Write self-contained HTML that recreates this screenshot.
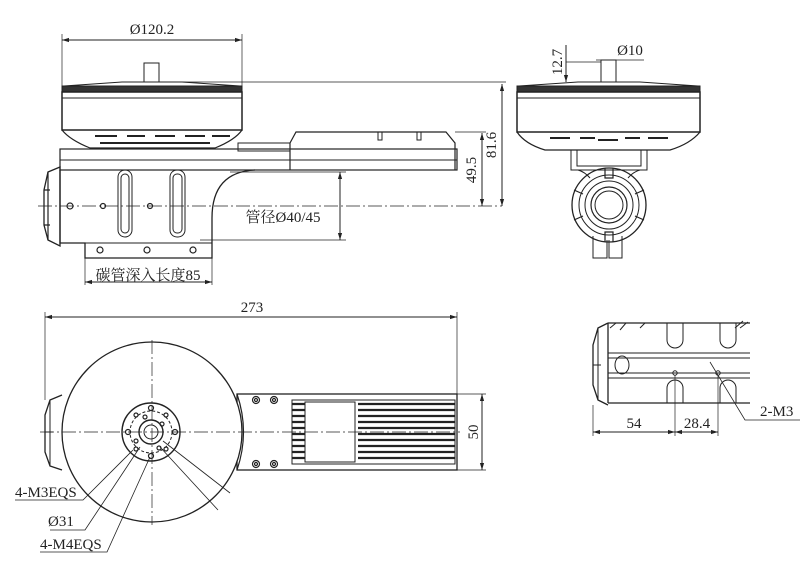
<!DOCTYPE html>
<html><head><meta charset="utf-8"><style>
html,body{margin:0;padding:0;background:#fff}
svg{display:block}
text{font-family:"Liberation Serif","Noto Serif CJK SC",serif;fill:#222;stroke:none;font-size:15px}
</style></head><body>
<svg width="800" height="562" viewBox="0 0 800 562" xmlns="http://www.w3.org/2000/svg" fill="none" stroke="#222" stroke-width="1">
<defs>
<marker id="a" viewBox="0 0 10 10" refX="10" refY="5" markerWidth="7" markerHeight="7" orient="auto-start-reverse"><path d="M0,2 L10,5 L0,8z" fill="#222" stroke="none"/></marker>
</defs>
<!-- ===== TOP-LEFT SIDE VIEW ===== -->
<line x1="62" y1="40" x2="242" y2="40" marker-start="url(#a)" marker-end="url(#a)"/>
<line x1="62" y1="34" x2="62" y2="88" stroke-width=".7"/><line x1="242" y1="34" x2="242" y2="88" stroke-width=".7"/>
<text x="152" y="34" text-anchor="middle">Ø120.2</text>
<rect x="144" y="63" width="15" height="19"/>
<path d="M122 82 H182 L240 86 H64 Z"/>
<rect x="62" y="86" width="180" height="6" fill="#333"/>
<rect x="62" y="92" width="180" height="38" stroke-width="1.5"/>
<line x1="62" y1="98" x2="242" y2="98"/>
<path d="M62 130 Q70 140 90 148 H215 Q235 140 242 130" stroke-width="1.2"/>
<g stroke-width="2"><path d="M95 136 h22 M127 136h18 M155 136h20 M185 136h20 M212 136h18"/><path d="M100 143h110"/></g>
<!-- arm -->
<rect x="60" y="149" width="397" height="21" stroke-width="1.2"/>
<line x1="60" y1="160" x2="457" y2="160"/>
<rect x="238" y="143" width="52" height="8"/>
<path d="M290 170 V143 L296 132 H446 L455 143 V170" stroke-width="1.2"/>
<path d="M378 132v8h4v-8 M417 132v8h4v-8"/>
<line x1="182" y1="82" x2="506" y2="82" stroke-width=".7"/>
<line x1="455" y1="132" x2="486" y2="132" stroke-width=".7"/>
<line x1="502" y1="84" x2="502" y2="206" marker-start="url(#a)" marker-end="url(#a)"/>
<line x1="482" y1="133" x2="482" y2="206" marker-start="url(#a)" marker-end="url(#a)"/>
<text transform="translate(496,145) rotate(-90)" text-anchor="middle">81.6</text>
<text transform="translate(476,170) rotate(-90)" text-anchor="middle">49.5</text>
<!-- clamp -->
<path d="M60 170 V243 H85 V258 H212 V218 Q212 172 255 170" stroke-width="1.3"/>
<line x1="60" y1="243" x2="212" y2="243"/>
<path d="M60 167 L48 172 L44 190 V225 L48 240 L60 246 Z" stroke-width="1.3"/>
<path d="M48 172 V240 M44 190 h6 M44 225 h6" stroke-width="1.2"/>
<rect x="118" y="170" width="14" height="67" rx="7"/><rect x="121" y="174" width="8" height="59" rx="4"/>
<rect x="170" y="170" width="15" height="67" rx="7"/><rect x="173" y="174" width="9" height="59" rx="4"/>
<g stroke-width="1.2"><circle cx="70" cy="206" r="3"/><circle cx="103" cy="206" r="2.5"/><circle cx="150" cy="206" r="2.5"/><circle cx="100" cy="250" r="3"/><circle cx="147" cy="250" r="3"/><circle cx="193" cy="250" r="3"/></g>
<line x1="38" y1="206" x2="502" y2="206" stroke-dasharray="14 3 2 3" stroke-width=".7"/>
<line x1="230" y1="172" x2="346" y2="172" stroke-width=".7"/>
<line x1="200" y1="240" x2="346" y2="240" stroke-width=".7"/>
<line x1="340" y1="172" x2="340" y2="240" marker-start="url(#a)" marker-end="url(#a)"/>
<text x="283" y="222" text-anchor="middle">管径Ø40/45</text>
<line x1="85" y1="258" x2="85" y2="285" stroke-width=".7"/><line x1="212" y1="258" x2="212" y2="285" stroke-width=".7"/>
<line x1="85" y1="282" x2="212" y2="282" marker-start="url(#a)" marker-end="url(#a)"/>
<text x="148" y="280" text-anchor="middle">碳管深入长度85</text>
<!-- ===== TOP-RIGHT FRONT VIEW ===== -->
<rect x="601" y="60" width="15" height="22"/>
<path d="M578 82 H640 L698 86 H519 Z"/>
<rect x="517" y="86" width="183" height="6" fill="#333"/>
<rect x="517" y="92" width="183" height="40" stroke-width="1.5"/>
<line x1="517" y1="98" x2="700" y2="98"/>
<path d="M517 132 Q525 144 545 150 H670 Q690 144 700 132" stroke-width="1.2"/>
<path d="M550 138h20 M580 138h15 M598 140h20 M625 138h15 M648 138h20" stroke-width="2"/>
<path d="M571 150 V170 H647 V150 M577 150 V166 H641 V150"/>
<line x1="566" y1="45" x2="566" y2="82" marker-end="url(#a)"/>
<line x1="566" y1="62" x2="601" y2="62" stroke-width=".7"/>
<text transform="translate(562,62) rotate(-90)" text-anchor="middle">12.7</text>
<line x1="596" y1="60" x2="644" y2="60" stroke-width=".7"/>
<text x="630" y="55" text-anchor="middle">Ø10</text>
<path d="M578 170 Q585 172 590 178" />
<path d="M640 170 Q633 172 628 178"/>
<circle cx="609" cy="205" r="37" stroke-width="1.3"/>
<circle cx="609" cy="205" r="30"/><circle cx="609" cy="205" r="24"/>
<circle cx="609" cy="205" r="18" stroke-width="1.2"/><circle cx="609" cy="205" r="14"/>
<g stroke-width="1.2"><path d="M605 168v10h8v-10 M605 242v-10h8v10 M574 190l9 4 M574 220l9-4 M644 190l-9 4 M644 220l-9-4"/></g>
<path d="M593 236 V258 H607 V240 M609 240 V258 H622 V236"/>
<!-- ===== BOTTOM-LEFT TOP VIEW ===== -->
<line x1="45" y1="317" x2="457" y2="317" marker-start="url(#a)" marker-end="url(#a)"/>
<line x1="45" y1="312" x2="45" y2="400" stroke-width=".7"/><line x1="457" y1="312" x2="457" y2="394" stroke-width=".7"/>
<text x="252" y="312" text-anchor="middle">273</text>
<path d="M62 395 L50 400 L45 415 V452 L50 466 L62 470" stroke-width="1.3"/>
<path d="M50 400 V466 M45 432h8"/>
<rect x="237" y="394" width="220" height="76" stroke-width="1.3"/>
<path d="M237 394 Q250 432 237 470" stroke-width="1.2"/>
<circle cx="152" cy="432" r="90" fill="#fff" stroke-width="1.3"/>
<g stroke-width="1.2">
<circle cx="256" cy="400" r="3.5"/><circle cx="256" cy="400" r="1.5"/><circle cx="274" cy="400" r="3.5"/><circle cx="274" cy="400" r="1.5"/>
<circle cx="256" cy="464" r="3.5"/><circle cx="256" cy="464" r="1.5"/><circle cx="274" cy="464" r="3.5"/><circle cx="274" cy="464" r="1.5"/>
</g>
<rect x="292" y="400" width="163" height="64"/>
<rect x="305" y="402" width="50" height="60"/>
<g stroke-width="2.2">
<path d="M292 404h13 M292 410h13 M292 416h13 M292 422h13 M292 428h13 M292 434h13 M292 440h13 M292 446h13 M292 452h13 M292 458h13"/>
<path d="M358 404h97 M358 410h97 M358 416h97 M358 422h97 M358 428h97 M358 434h97 M358 440h97 M358 446h97 M358 452h97 M358 458h97"/>
</g>
<line x1="457" y1="394" x2="486" y2="394" stroke-width=".7"/><line x1="457" y1="470" x2="486" y2="470" stroke-width=".7"/>
<line x1="482" y1="394" x2="482" y2="470" marker-start="url(#a)" marker-end="url(#a)"/>
<text transform="translate(478,432) rotate(-90)" text-anchor="middle">50</text>
<line x1="152" y1="340" x2="152" y2="525" stroke-dasharray="14 3 2 3" stroke-width=".7"/>
<line x1="40" y1="432" x2="460" y2="432" stroke-dasharray="14 3 2 3" stroke-width=".7"/>
<circle cx="151" cy="432" r="29" stroke-width="1.4"/>
<circle cx="151" cy="432" r="21" stroke-dasharray="3 2"/>
<circle cx="151" cy="432" r="12" stroke-width="1.4"/><circle cx="151" cy="432" r="7"/>
<g stroke-width="1.2">
<circle cx="151" cy="408" r="2.5"/><circle cx="151" cy="456" r="2.5"/><circle cx="128" cy="432" r="2.5"/><circle cx="175" cy="432" r="2.5"/>
<circle cx="136" cy="415" r="2"/><circle cx="166" cy="415" r="2"/><circle cx="136" cy="449" r="2"/><circle cx="166" cy="449" r="2"/>
<circle cx="145" cy="417" r="2"/><circle cx="162" cy="424" r="2"/><circle cx="136" cy="441" r="2"/><circle cx="159" cy="448" r="2"/>
</g>
<g stroke-width=".8">
<path d="M133 450 L83 500 H15"/><path d="M140 447 L85 530 H50"/><path d="M150 457 L107 552 H40"/>
<path d="M160 447 L218 510"/><path d="M163 441 L230 493"/>
</g>
<text x="15" y="497">4-M3EQS</text>
<text x="48" y="526">Ø31</text>
<text x="40" y="549">4-M4EQS</text>
<!-- ===== BOTTOM-RIGHT VIEW ===== -->
<path d="M608 323 L598 328 L593 345 V385 L598 400 L608 405" stroke-width="1.3"/>
<path d="M598 328 V400 M593 365h8"/>
<path d="M608 323 H750 M608 403 H750 M608 323 V403" stroke-width="1.3"/>
<path d="M608 353 H750 M608 358 H750 M608 378 H750 M608 373 H750" />
<path d="M610 328 l6 -5 M620 330 l6 -7 M640 328 l5 -5 M735 328 l8 -7 M740 328 l8 -6"/>
<path d="M667 323 V340 a8 8 0 0 0 16 0 V323 M720 323 V340 a8 8 0 0 0 16 0 V323"/>
<path d="M667 403 V388 a8 8 0 0 1 16 0 V403 M720 403 V388 a8 8 0 0 1 16 0 V403"/>
<ellipse cx="622" cy="365" rx="7" ry="9"/>
<circle cx="675" cy="373" r="2.2"/><circle cx="718" cy="373" r="2.2"/>
<line x1="593" y1="405" x2="593" y2="436" stroke-width=".7"/><line x1="675" y1="375" x2="675" y2="436" stroke-width=".7"/><line x1="718" y1="375" x2="718" y2="436" stroke-width=".7"/>
<line x1="593" y1="432" x2="675" y2="432" marker-start="url(#a)" marker-end="url(#a)"/>
<line x1="675" y1="432" x2="718" y2="432" marker-start="url(#a)" marker-end="url(#a)"/>
<text x="634" y="428" text-anchor="middle">54</text>
<text x="697" y="428" text-anchor="middle">28.4</text>
<path d="M710 362 L745 420 H800" stroke-width=".8"/>
<text x="760" y="416">2-M3</text>
</svg>
</body></html>
